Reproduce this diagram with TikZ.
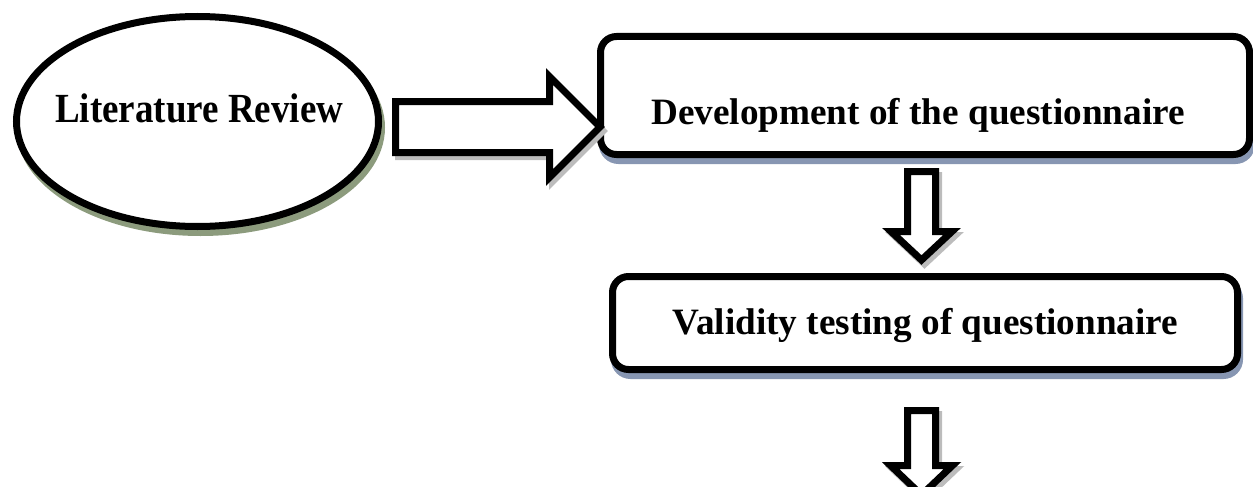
\documentclass[tikz,border=0pt]{standalone}
\usepackage{fontspec}
\setmainfont{Liberation Serif}
\usetikzlibrary{shapes.geometric}

\definecolor{ovalshadow}{RGB}{140,155,125}
\definecolor{boxshadow}{RGB}{135,150,178}
\definecolor{arrowshadow}{RGB}{188,188,188}

\tikzset{
  outline/.style={draw=black, line width=7pt, fill=white, line join=miter},
  ovalnode/.style={ellipse, outline, inner sep=0pt,
      minimum width=362pt, minimum height=210pt,
      preaction={draw=ovalshadow, fill=ovalshadow, line width=7pt,
        transform canvas={xshift=3pt, yshift=-6pt}}},
  stepbox/.style={rectangle, rounded corners=16pt, outline, inner sep=0pt,
      preaction={draw=boxshadow, fill=boxshadow, line width=7pt,
        transform canvas={xshift=2pt, yshift=-6pt}}},
  blockarrow/.style={outline,
      preaction={draw=arrowshadow, fill=arrowshadow, line width=7pt,
        transform canvas={xshift=3pt, yshift=-4pt}}},
  labeltext/.style={inner sep=0pt, font=\fontsize{37.2}{44}\selectfont\bfseries},
}

\begin{document}
\begin{tikzpicture}[x=1pt, y=-1pt]
\useasboundingbox (0,0) rectangle (1253,487);

% first stage: the oval
\node[ovalnode] (lit) at (197.5,121.5) {};
\node[labeltext, font=\fontsize{37}{44}\selectfont\bfseries, anchor=base west]
  (littext) at (55,122.7) {\scalebox{1}[1.12]{Literature Review}};

% rounded boxes of the later stages
\node[stepbox, minimum width=649pt, minimum height=118pt] (dev) at (925,95.5) {};
\node[labeltext, anchor=base west] (devtext) at (651,124)
  {Development of the questionnaire};

\node[stepbox, minimum width=625pt, minimum height=93pt] (val) at (925,323) {};
\node[labeltext, anchor=base] (valtext) at (925.5,334)
  {Validity testing of questionnaire};

% hollow block arrows between the stages
\draw[blockarrow] (395.5,101.5) -- (549.5,101.5) -- (549.5,76.5) -- (600,127)
  -- (549.5,177.5) -- (549.5,152.5) -- (395.5,152.5) -- cycle;

\draw[blockarrow] (907.5,171.5) -- (935.5,171.5) -- (935.5,231.5) -- (952,231.5)
  -- (921.5,260) -- (891,231.5) -- (907.5,231.5) -- cycle;

\draw[blockarrow] (907.5,410.5) -- (935.5,410.5) -- (935.5,465.5) -- (952.5,465.5)
  -- (921.5,495) -- (890.5,465.5) -- (907.5,465.5) -- cycle;
\end{tikzpicture}
\end{document}
